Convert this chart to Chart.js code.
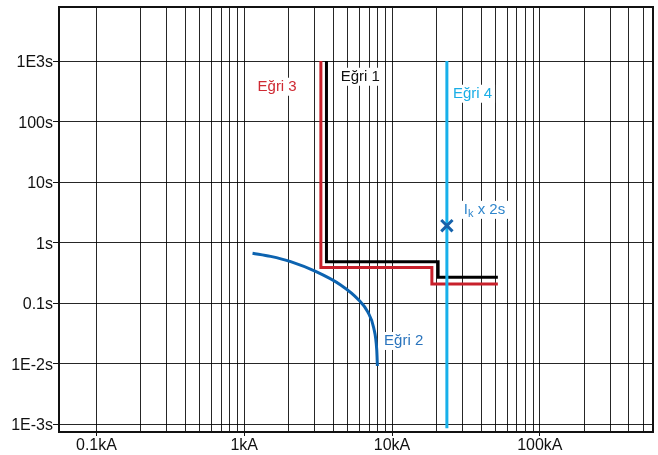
<!DOCTYPE html>
<html>
<head>
<meta charset="utf-8">
<script src="https://cdn.jsdelivr.net/npm/chart.js@4"></script>
<style>
  html, body { margin: 0; padding: 0; background: #fff; }
  #wrap { width: 658px; height: 455px; }
</style>
</head>
<body>
<div id="wrap"><canvas id="c" width="658" height="455"></canvas></div>
<script>
// Current axis (kA) and time axis (s) labels
const currentLabelValues = [0.1, 1, 10, 100];
const currentLabels = ['0.1kA', '1kA', '10kA', '100kA'];
const timeLabelValues = [0.001, 0.01, 0.1, 1, 10, 100, 1000];
const timeLabels = ['1E-3s', '1E-2s', '0.1s', '1s', '10s', '100s', '1E3s'];
const gridMultipliers = [1, 2, 3, 4, 5, 6, 7, 8, 9];

// Eğri 1: breaker characteristic (black)
const curve1Current = [3.6, 3.6, 20.5, 20.5, 52];
const curve1Time = [1000, 0.48, 0.48, 0.266, 0.266];

// Eğri 3: breaker characteristic (red)
const curve3Current = [3.3, 3.3, 18.6, 18.6, 52];
const curve3Time = [1000, 0.385, 0.385, 0.206, 0.206];

// Eğri 2: fuse / load curve (blue)
const curve2Current = [1.138, 1.507, 2.06, 3.04, 4.49, 5.95, 6.85, 7.52, 7.88, 7.96];
const curve2Time = [0.666, 0.590, 0.484, 0.333, 0.199, 0.1125, 0.0713, 0.0387, 0.01676, 0.00911];

// Eğri 4: short-circuit current (light blue)
const curve4Current = [23.5, 23.5];
const curve4Time = [1000, 0.00085];

// Ik x 2s point
const ikCurrent = [23.5];
const ikTime = [1.9];

// Text notes on the plot
const noteTexts = ['Eğri 3', 'Eğri 1', 'Eğri 4', 'Ik x 2s', 'Eğri 2'];
const noteCurrent = [1.23, 4.49, 25.8, 30.6, 8.83];
const noteTime = [376, 550, 288, 3.47, 0.0236];
const noteColors = ['#cf2a33', '#111111', '#1aaee6', '#2f86cc', '#2a74bd'];

const FONT = '"Liberation Sans", Arial, Helvetica, sans-serif';

function pts(xs, ys) { return xs.map((v, i) => ({ x: v, y: ys[i] })); }

const currentGrid = [];
[0.1, 1, 10, 100].forEach(d => gridMultipliers.forEach(m => {
  const v = +(d * m).toPrecision(3);
  if (v <= 500) currentGrid.push(v);
}));

function isLabelValue(list, v) {
  return list.some(t => Math.abs(Math.log10(t) - Math.log10(v)) < 1e-6);
}
function labelFor(values, labels, v) {
  const i = values.findIndex(t => Math.abs(Math.log10(t) - Math.log10(v)) < 1e-6);
  return i >= 0 ? labels[i] : '';
}
function noPad(s) { s.paddingTop = 0; s.paddingBottom = 0; s.paddingLeft = 0; s.paddingRight = 0; }

const overlay = {
  id: 'overlay',
  beforeDatasetsDraw(chart) {
    const { ctx, scales: { x, y } } = chart;
    ctx.save();
    ctx.textBaseline = 'middle';
    noteTexts.forEach((t, i) => {
      const px = x.getPixelForValue(noteCurrent[i]);
      const py = y.getPixelForValue(noteTime[i]);
      let parts;
      if (t.startsWith('Ik')) parts = [['I', false], ['k', true], [' x 2s', false]];
      else parts = [[t, false]];
      let w = 0;
      parts.forEach(([s, sub]) => {
        ctx.font = (sub ? '11px ' : '15px ') + FONT;
        w += ctx.measureText(s).width;
      });
      ctx.fillStyle = '#fff';
      ctx.fillRect(px - 3, py - 9, w + 6, 18);
      let cx = px;
      ctx.fillStyle = noteColors[i];
      parts.forEach(([s, sub]) => {
        ctx.font = (sub ? '11px ' : '15px ') + FONT;
        ctx.fillText(s, cx, sub ? py + 4 : py);
        cx += ctx.measureText(s).width;
      });
    });
    ctx.restore();
  },
  afterDraw(chart) {
    const { ctx, chartArea: a } = chart;
    ctx.save();
    ctx.strokeStyle = '#111';
    ctx.lineWidth = 2;
    ctx.strokeRect(a.left, a.top, a.right - a.left, a.bottom - a.top);
    ctx.restore();
  }
};

new Chart(document.getElementById('c'), {
  type: 'scatter',
  data: {
    datasets: [
      {
        label: 'Ik x 2s', data: pts(ikCurrent, ikTime), order: 0,
        pointStyle: 'crossRot', pointRadius: 8, pointBorderWidth: 3,
        borderColor: '#1662ab', backgroundColor: '#1662ab', showLine: false
      },
      {
        label: 'Eğri 4', data: pts(curve4Current, curve4Time), order: 1,
        showLine: true, borderColor: '#17b0ea', borderWidth: 3, pointRadius: 0
      },
      {
        label: 'Eğri 1', data: pts(curve1Current, curve1Time), order: 2,
        showLine: true, borderColor: '#000', borderWidth: 3, pointRadius: 0
      },
      {
        label: 'Eğri 3', data: pts(curve3Current, curve3Time), order: 3,
        showLine: true, borderColor: '#c8202b', borderWidth: 3, pointRadius: 0
      },
      {
        label: 'Eğri 2', data: pts(curve2Current, curve2Time), order: 4,
        showLine: true, borderColor: '#0c63b0', borderWidth: 3, pointRadius: 0,
        cubicInterpolationMode: 'monotone', borderCapStyle: 'butt'
      }
    ]
  },
  options: {
    responsive: false,
    animation: false,
    devicePixelRatio: 1,
    layout: { autoPadding: false, padding: { top: 7, right: 5, left: 0, bottom: 0 } },
    plugins: { legend: { display: false }, tooltip: { enabled: false } },
    scales: {
      x: {
        type: 'logarithmic',
        min: 0.0558, max: 583,
        afterBuildTicks: s => { s.ticks = currentGrid.map(v => ({ value: v })); },
        afterFit: s => { s.height = 23; noPad(s); },
        ticks: {
          autoSkip: false, maxRotation: 0, minRotation: 0, padding: 0,
          color: '#111', font: { family: FONT, size: 16 },
          callback: v => labelFor(currentLabelValues, currentLabels, v)
        },
        grid: {
          color: 'rgba(0,0,0,0.85)', lineWidth: 1, tickLength: 4,
          tickColor: c => (c.tick && isLabelValue(currentLabelValues, c.tick.value)) ? '#111' : 'rgba(0,0,0,0)'
        },
        border: { display: false }
      },
      y: {
        type: 'logarithmic',
        min: 0.000738, max: 7820,
        afterBuildTicks: s => { s.ticks = timeLabelValues.map(v => ({ value: v })); },
        afterFit: s => { s.width = 59; noPad(s); },
        ticks: {
          autoSkip: false, padding: 0, labelOffset: 2,
          color: '#111', font: { family: FONT, size: 16 },
          callback: v => labelFor(timeLabelValues, timeLabels, v)
        },
        grid: { color: 'rgba(0,0,0,0.85)', lineWidth: 1, tickLength: 6, tickColor: '#111' },
        border: { display: false }
      }
    }
  },
  plugins: [overlay]
});
</script>
</body>
</html>
